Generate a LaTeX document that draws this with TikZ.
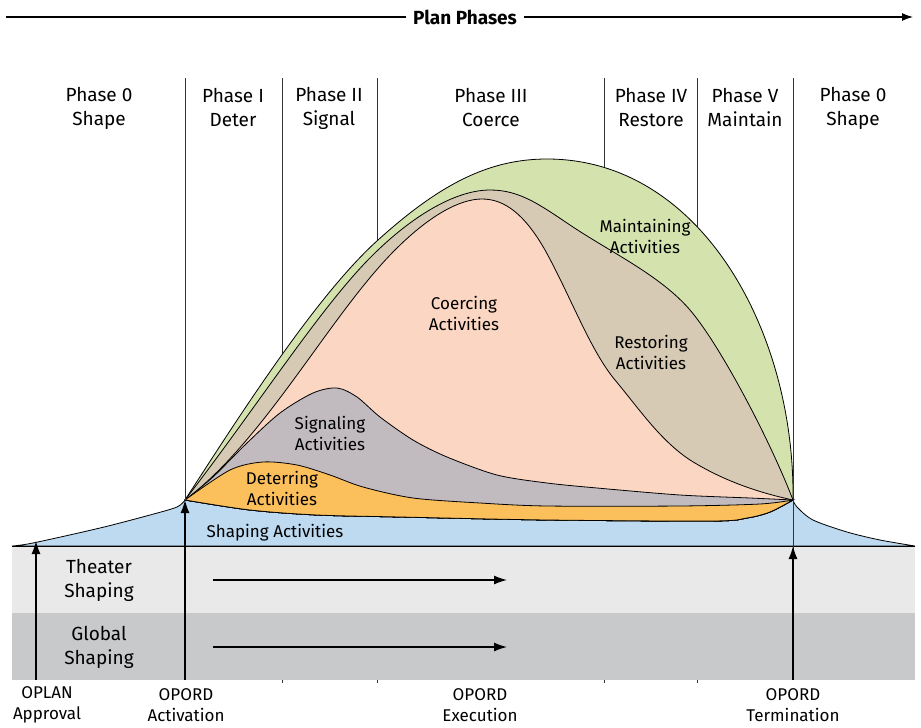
\documentclass[tikz,border=0pt]{standalone}
\usepackage{fontspec}
\setmainfont{Fira Sans}
\usetikzlibrary{arrows.meta}
\definecolor{maintfill}{RGB}{212,226,173}
\definecolor{restfill}{RGB}{214,202,180}
\definecolor{coercefill}{RGB}{251,214,194}
\definecolor{signalfill}{RGB}{193,187,192}
\definecolor{deterfill}{RGB}{251,191,92}
\definecolor{shapefill}{RGB}{189,218,240}
\definecolor{theaterfill}{RGB}{232,233,232}
\definecolor{globalfill}{RGB}{200,201,203}
\tikzset{%
phaseline/.style={draw=black!80,line width=0.9pt},
region/.style={draw=black,line width=0.8pt},
phaselabel/.style={align=center,inner sep=0pt,font=\fontsize{19}{24}\selectfont},
actlabel/.style={align=center,inner sep=0pt,font=\fontsize{17}{21}\selectfont},
milestone/.style={align=center,inner sep=0pt,font=\fontsize{17}{21}\selectfont},
uparrow/.style={line width=1.3pt,-{Latex[length=13pt,width=9pt]}},
bandarrow/.style={line width=1.3pt,-{Latex[length=13pt,width=9pt]}}
}
% outlines of the activity areas, left point to right point
\def\greenedge{(185,500) .. controls (245,407) and (318,294) .. (378,240)
  .. controls (438,186) and (487,159) .. (547,159)
  .. controls (700,159) and (795,330) .. (793,500)}
\def\tanedge{(185,500) .. controls (262,400) and (325,300) .. (378,250)
  .. controls (420,210) and (460,190) .. (490,190)
  .. controls (520,190) and (540,205) .. (570,225)
  .. controls (610,252) and (660,275) .. (690,310)
  .. controls (720,345) and (770,440) .. (793,500)}
\def\pinkedge{(185,500) .. controls (265,440) and (330,315) .. (395,250)
  .. controls (430,215) and (460,199) .. (482,199)
  .. controls (505,199) and (525,215) .. (545,250)
  .. controls (570,295) and (590,350) .. (615,380)
  .. controls (640,410) and (660,440) .. (690,460)
  .. controls (730,485) and (770,495) .. (793,500)}
\def\signaledge{(185,500) (213,477) (247,443) (280,413) (313,393) (337,388) (357,397) (380,417) (413,440) (447,457) (497,475) (547,483) (597,488) (680,495) (750,498) (793,500)}
\def\deteredge{(185,500) (230,470) (263,462) (297,465) (330,475) (363,487) (413,498) (480,503) (547,506) (680,506) (760,504) (793,500)}
\def\baseback{(793,500) (770,512) (747,518) (713,521) (547,520) (400,517) (317,515) (250,510) (185,500)}

\begin{document}
\begin{tikzpicture}[x=1pt,y=-1pt]
  \useasboundingbox (0,0) rectangle (921,728);

  % title arrow
  \node[font=\fontsize{19}{22}\selectfont\bfseries,fill=white,inner sep=7pt] (plan) at (465,17) {Plan Phases};
  \coordinate (planstart) at (6,17);
  \coordinate (planend) at (913,17);
  \draw[line width=1.1pt] (planstart) -- (plan.west);
  \draw[line width=1.1pt,-{Latex[length=11pt,width=8pt]}] (plan.east) -- (planend);

  % inner phase lines, cut off by the areas
  \foreach \x in {282,377,604,697}
    \draw[phaseline] (\x,78) -- (\x,683);

  % shaping bands
  \fill[theaterfill] (12,546) rectangle (915,613);
  \fill[globalfill] (12,613) rectangle (915,680);

  % activity areas
  \path[region,fill=shapefill] plot[smooth] coordinates {(12,546) (33,543) (100,528) (150,515) (177,507) (185,500)}
    -- (793,500) -- plot[smooth] coordinates {(793,500) (797,507) (813,520) (847,532) (880,540) (915,546)} -- cycle;
  \path[region,fill=maintfill] \greenedge -- plot[smooth] coordinates {\baseback} -- cycle;
  \path[region,fill=restfill] \tanedge -- plot[smooth] coordinates {\baseback} -- cycle;
  \path[region,fill=coercefill] \pinkedge -- plot[smooth] coordinates {\baseback} -- cycle;
  \path[region,fill=signalfill] plot[smooth] coordinates {\signaledge} -- plot[smooth] coordinates {\baseback} -- cycle;
  \path[region,fill=deterfill] plot[smooth] coordinates {\deteredge} -- plot[smooth] coordinates {\baseback} -- cycle;
  \draw[line width=1pt] (12,546) -- (915,546);

  \coordinate (L) at (185,500);
  \coordinate (R) at (793,500);

  % outer phase lines
  \draw[phaseline] (185,78) -- (L);
  \draw[phaseline] (793,78) -- (793,680);

  % phase labels
  \node[phaselabel] (ph0a) at (99,108) {Phase 0\\Shape};
  \node[phaselabel] (ph1) at (233,108) {Phase I\\Deter};
  \node[phaselabel] (ph2) at (329,108) {Phase II\\Signal};
  \node[phaselabel] (ph3) at (491,108) {Phase III\\Coerce};
  \node[phaselabel] (ph4) at (651,108) {Phase IV\\Restore};
  \node[phaselabel] (ph5) at (745,108) {Phase V\\Maintain};
  \node[phaselabel] (ph0b) at (853,108) {Phase 0\\Shape};

  % activity labels
  \node[actlabel] (maint) at (645,236) {Maintaining\\Activities};
  \node[actlabel] (coerce) at (464,313) {Coercing\\Activities};
  \node[actlabel] (restore) at (651,352) {Restoring\\Activities};
  \node[actlabel] (signal) at (330,433) {Signaling\\Activities};
  \node[actlabel] (deter) at (282,488) {Deterring\\Activities};
  \node[actlabel] (shaping) at (275,533) {Shaping Activities};

  % band labels and arrows
  \node[phaselabel] (theater) at (99,580) {Theater\\Shaping};
  \node[phaselabel] (global) at (99,647) {Global\\Shaping};
  \coordinate (tstart) at (213,580);
  \coordinate (tend) at (507,580);
  \coordinate (gstart) at (213,647);
  \coordinate (gend) at (507,647);
  \draw[bandarrow] (tstart) -- (tend);
  \draw[bandarrow] (gstart) -- (gend);

  % milestones
  \node[milestone] (oplan) at (47,705) {OPLAN\\Approval};
  \node[milestone] (activ) at (186,705) {OPORD\\Activation};
  \node[milestone] (exec) at (480,705) {OPORD\\Execution};
  \node[milestone] (term) at (793,705) {OPORD\\Termination};
  \coordinate (oplanbase) at (36,680);
  \coordinate (oplantip) at (36,541);
  \coordinate (activbase) at (185,680);
  \coordinate (termbase) at (793,680);
  \coordinate (termtip) at (793,546);
  \draw[uparrow] (oplanbase) -- (oplantip);
  \draw[uparrow] (activbase) -- (L);
  \draw[uparrow] (termbase) -- (termtip);
\end{tikzpicture}
\end{document}
